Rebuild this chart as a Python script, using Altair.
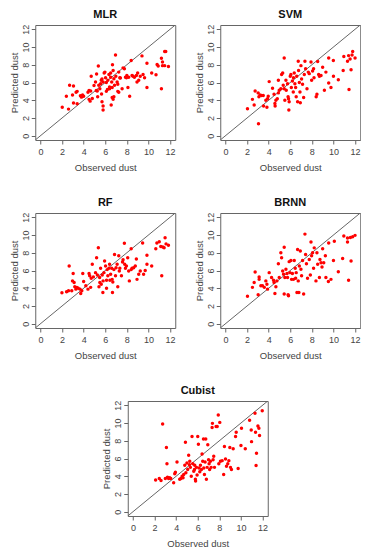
import altair as alt
import pandas as pd

ticks = [0, 2, 4, 6, 8, 10, 12]
axis_domain = [-0.48, 12.48]
diag = [-0.48, 12.48]

mlr_obs = [2.02, 2.6, 2.4, 2.7, 3.06, 2.97, 3.06, 3.4, 3.3, 3.4, 3.7, 3.8, 3.9, 4.0, 4.4, 4.5, 4.65, 4.5, 4.6, 4.8,
           4.7, 4.96, 5.1, 5.17, 5.26, 5.2, 5.36, 5.4, 5.5, 5.3, 5.57, 5.63, 5.7, 5.8, 5.9, 5.66, 5.7, 5.8, 5.8, 5.97,
           6.03, 6.1, 6.2, 6.1, 6.24, 6.34, 6.4, 6.4, 6.5, 6.5, 6.6, 6.64, 6.64, 6.55, 6.67, 6.73, 6.8, 6.86, 6.8, 6.73,
           6.95, 6.98, 7.1, 7.16, 7.25, 7.35, 7.16, 7.25, 7.4, 7.56, 7.65, 7.77, 7.87, 7.96, 8.0, 8.17, 8.1, 8.26, 8.4, 8.48,
           8.57, 8.7, 8.88, 9.0, 8.94, 9.1, 9.24, 9.4, 9.5, 9.64, 9.86, 9.86, 10.3, 10.7, 10.8, 10.9, 11.2, 11.3, 11.3, 11.2,
           11.5, 11.6, 11.5, 11.85]
mlr_pred = [3.2, 3.0, 4.46, 5.7, 5.6, 4.6, 3.7, 3.6, 4.9, 5.0, 4.5, 4.35, 4.6, 4.46, 4.9, 5.1, 5.05, 4.1, 3.9, 4.2,
            6.7, 5.65, 6.05, 5.1, 5.05, 6.95, 7.85, 5.7, 5.3, 4.4, 5.87, 6.25, 6.4, 6.05, 7.06, 4.7, 3.83, 3.35, 2.9, 7.17,
            6.54, 6.0, 5.2, 5.0, 6.25, 6.9, 5.5, 5.3, 7.06, 6.6, 6.05, 5.43, 4.3, 3.46, 8.0, 7.36, 6.43, 5.7, 4.4, 4.1,
            9.1, 6.7, 6.05, 5.8, 7.17, 6.54, 5.0, 4.9, 6.5, 5.3, 7.65, 7.55, 6.6, 6.54, 6.8, 6.6, 5.43, 4.46, 8.48, 6.8,
            6.7, 6.6, 6.8, 7.06, 6.05, 6.25, 6.7, 9.0, 6.9, 6.54, 8.18, 5.43, 7.06, 6.87, 8.03, 7.85, 8.74, 8.3, 7.9, 5.3,
            9.5, 9.5, 7.9, 7.8]

svm_obs = [2.04, 2.5, 2.66, 2.75, 3.06, 3.03, 3.1, 3.2, 3.34, 3.5, 3.53, 3.74, 3.84, 3.9, 3.96, 4.05, 4.36, 4.5, 4.58, 4.6,
           4.67, 4.8, 4.9, 4.9, 4.98, 5.13, 5.2, 5.3, 5.35, 5.44, 5.44, 5.5, 5.6, 5.63, 5.75, 5.8, 5.84, 5.9, 5.87, 6.0,
           6.06, 6.1, 6.2, 6.28, 6.3, 6.37, 6.43, 6.5, 6.55, 6.6, 6.68, 6.74, 6.77, 6.84, 6.9, 6.93, 6.99, 7.05, 7.14, 7.24,
           7.3, 7.36, 7.42, 7.55, 7.67, 7.76, 7.92, 7.98, 8.07, 8.16, 8.2, 8.4, 8.47, 8.54, 8.63, 8.7, 8.85, 9.0, 9.16, 9.3,
           9.56, 9.56, 9.77, 9.99, 10.0, 10.45, 10.9, 10.96, 11.3, 11.4, 11.44, 11.54, 11.63, 11.72, 11.78, 12.0]
svm_pred = [3.05, 4.1, 3.46, 5.05, 1.34, 4.83, 4.39, 4.6, 4.54, 4.54, 3.35, 4.0, 3.2, 4.16, 4.46, 6.1, 5.35, 4.68, 3.64, 3.35,
            4.0, 4.16, 4.83, 6.25, 5.13, 5.3, 6.9, 7.06, 5.7, 8.77, 5.3, 4.0, 6.25, 5.13, 5.87, 4.39, 4.16, 3.83, 2.9, 6.7,
            6.9, 5.43, 6.17, 4.94, 6.54, 7.06, 5.87, 5.43, 4.39, 6.7, 3.83, 8.4, 7.36, 5.99, 4.94, 3.72, 7.9, 6.4, 5.8, 4.3,
            6.9, 8.4, 7.55, 5.3, 7.17, 7.0, 8.3, 6.25, 7.3, 7.55, 6.54, 4.39, 4.68, 8.36, 6.9, 6.7, 6.8, 7.73, 5.13, 7.17,
            5.95, 8.77, 5.43, 8.48, 6.7, 6.32, 7.36, 8.92, 8.4, 9.03, 5.2, 8.66, 7.43, 9.1, 9.5, 8.77]

rf_obs = [1.99, 2.42, 2.6, 2.66, 2.9, 3.03, 2.97, 3.12, 3.18, 3.28, 3.37, 3.5, 3.67, 3.73, 3.83, 3.92, 4.0, 4.2, 4.4, 4.5,
          4.56, 4.65, 4.7, 4.8, 4.9, 5.1, 5.2, 5.27, 5.36, 5.42, 5.48, 5.5, 5.57, 5.63, 5.72, 5.78, 5.8, 5.88, 5.94, 6.03,
          6.12, 6.12, 6.18, 6.24, 6.34, 6.4, 6.43, 6.5, 6.6, 6.64, 6.67, 6.7, 6.8, 6.86, 6.95, 7.0, 7.1, 7.16, 7.25, 7.3,
          7.35, 7.5, 7.6, 7.65, 7.77, 7.8, 7.87, 7.96, 8.08, 8.17, 8.23, 8.4, 8.4, 8.48, 8.63, 8.78, 8.88, 8.94, 9.1, 9.24,
          9.46, 9.55, 9.7, 9.86, 9.86, 10.3, 10.68, 10.78, 11.0, 11.14, 11.23, 11.33, 11.45, 11.54, 11.63, 11.85]
rf_pred = [3.5, 3.6, 3.72, 6.5, 3.72, 5.65, 4.83, 4.65, 4.16, 3.9, 4.1, 4.0, 3.9, 3.42, 3.72, 5.65, 4.76, 4.28, 3.9, 5.65,
           5.4, 4.1, 5.13, 6.7, 5.28, 5.76, 7.43, 5.5, 8.57, 4.16, 5.2, 4.65, 6.25, 4.46, 5.5, 3.53, 4.83, 5.76, 7.06, 6.5,
           4.9, 4.0, 6.1, 5.4, 6.25, 6.7, 4.9, 5.57, 6.25, 5.0, 3.53, 4.7, 6.1, 7.8, 5.4, 6.32, 6.7, 4.16, 7.66, 5.95,
           6.25, 5.4, 6.96, 7.2, 9.06, 6.7, 6.25, 6.5, 7.43, 5.95, 4.83, 8.46, 6.1, 6.25, 6.3, 6.5, 7.3, 5.0, 5.57, 5.95,
           9.1, 5.57, 6.0, 7.73, 6.7, 6.5, 8.46, 9.1, 9.25, 8.7, 5.4, 8.66, 8.57, 9.7, 9.0, 8.85]

brnn_obs = [2.04, 2.5, 2.66, 2.75, 3.03, 3.12, 3.12, 3.28, 3.43, 3.6, 3.74, 3.84, 3.9, 4.05, 4.27, 4.45, 4.5, 4.58, 4.67, 4.76,
            4.9, 4.98, 5.13, 5.2, 5.3, 5.38, 5.44, 5.44, 5.5, 5.6, 5.7, 5.75, 5.8, 5.84, 5.9, 5.97, 6.06, 6.12, 6.2, 6.3,
            6.37, 6.46, 6.5, 6.55, 6.62, 6.68, 6.74, 6.8, 6.84, 6.93, 6.99, 7.05, 7.14, 7.24, 7.36, 7.42, 7.5, 7.6, 7.76, 7.86,
            7.92, 7.98, 8.07, 8.16, 8.22, 8.38, 8.47, 8.54, 8.7, 8.75, 8.85, 8.94, 9.0, 9.1, 9.25, 9.3, 9.53, 9.56, 9.77, 10.0,
            10.08, 10.45, 10.85, 10.96, 11.3, 11.3, 11.4, 11.57, 11.63, 11.78, 12.0]
brnn_pred = [3.1, 4.1, 4.65, 5.84, 3.27, 5.28, 5.0, 4.28, 4.28, 4.1, 4.83, 4.46, 3.9, 5.76, 5.2, 4.9, 4.65, 3.42, 4.16, 4.83,
             6.76, 5.2, 8.0, 7.43, 5.95, 5.57, 8.62, 3.35, 5.2, 6.13, 5.65, 5.2, 3.27, 3.16, 7.0, 5.76, 7.13, 5.0, 5.65, 5.0,
             7.13, 6.25, 5.13, 5.76, 3.53, 8.36, 4.83, 3.53, 6.5, 8.2, 6.13, 5.4, 7.13, 3.35, 10.1, 7.8, 6.76, 5.13, 7.25, 5.5,
             9.2, 7.66, 8.0, 6.25, 8.55, 4.83, 8.0, 6.7, 5.2, 7.25, 6.88, 6.4, 8.44, 6.88, 7.66, 5.2, 4.76, 9.1, 5.0, 7.13,
             9.3, 5.87, 7.36, 9.9, 9.2, 9.66, 4.9, 9.73, 7.06, 9.8, 9.96]

cub_obs = [2.1, 2.44, 2.6, 2.75, 3.0, 3.1, 3.15, 3.2, 3.3, 3.4, 3.5, 3.77, 3.87, 3.93, 4.08, 4.33, 4.45, 4.55, 4.64, 4.7,
           4.8, 4.86, 4.9, 5.0, 5.07, 5.16, 5.23, 5.26, 5.32, 5.4, 5.47, 5.54, 5.63, 5.7, 5.72, 5.78, 5.8, 5.88, 5.94, 6.0,
           6.06, 6.12, 6.19, 6.25, 6.34, 6.4, 6.46, 6.53, 6.56, 6.62, 6.68, 6.74, 6.8, 6.87, 6.93, 7.0, 7.05, 7.1, 7.17, 7.24,
           7.33, 7.36, 7.42, 7.48, 7.55, 7.7, 7.8, 7.9, 7.95, 8.04, 8.1, 8.26, 8.4, 8.47, 8.57, 8.66, 8.78, 8.88, 8.97, 9.03,
           9.12, 9.28, 9.5, 9.56, 9.74, 10.0, 10.05, 10.4, 10.8, 10.95, 10.98, 11.3, 11.35, 11.4, 11.44, 11.57, 11.66, 11.72, 11.97]
cub_pred = [3.57, 3.75, 3.53, 9.9, 3.75, 7.25, 5.4, 3.9, 3.75, 3.83, 3.75, 3.27, 4.28, 4.46, 5.6, 3.65, 3.75, 4.0, 3.83, 4.2,
            5.24, 7.84, 4.39, 5.5, 4.76, 6.36, 5.3, 5.68, 5.0, 4.0, 8.47, 5.4, 4.57, 4.76, 5.24, 3.65, 3.46, 5.0, 4.13, 8.47,
            7.6, 4.94, 4.5, 5.24, 4.76, 6.5, 5.68, 8.2, 4.94, 4.2, 5.6, 8.2, 3.65, 5.0, 7.55, 5.87, 5.4, 4.76, 5.68, 5.0,
            9.5, 9.96, 5.87, 6.25, 5.0, 9.6, 9.6, 10.9, 5.4, 10.07, 5.68, 5.76, 4.2, 7.36, 5.94, 5.13, 5.4, 5.76, 7.25, 5.0,
            4.76, 7.1, 8.47, 8.96, 4.87, 7.47, 9.4, 7.1, 10.3, 9.2, 7.9, 11.1, 8.96, 5.2, 6.6, 9.66, 9.4, 8.6, 11.37]

FONT = "Liberation Sans"
GREY = "#666666"


def panel(name, obs, pred):
    df = pd.DataFrame({"obs": obs, "pred": pred})
    line_df = pd.DataFrame({"obs": diag, "pred": diag})
    xs = alt.Scale(domain=axis_domain, nice=False, zero=False)
    ys = alt.Scale(domain=axis_domain, nice=False, zero=False)
    xax = alt.Axis(values=ticks, title="Observed dust", format="d", labelPadding=3, titlePadding=6)
    yax = alt.Axis(values=ticks, title="Predicted dust", format="d", labelAngle=270,
                   labelAlign="center", labelBaseline="bottom", labelPadding=1, titlePadding=2)
    line = alt.Chart(line_df).mark_line(color=GREY, strokeWidth=1, clip=True).encode(
        x=alt.X("obs:Q", scale=xs, axis=xax),
        y=alt.Y("pred:Q", scale=ys, axis=yax),
    )
    pts = alt.Chart(df).mark_circle(size=12, color="#ff0000", opacity=1).encode(
        x=alt.X("obs:Q", scale=xs, axis=xax),
        y=alt.Y("pred:Q", scale=ys, axis=yax),
    )
    return alt.layer(line, pts).properties(
        width=140, height=115,
        title=alt.TitleParams(name, fontSize=11, fontWeight="bold", font=FONT, color="#111111", offset=4),
    )


row1 = alt.hconcat(panel("MLR", mlr_obs, mlr_pred), panel("SVM", svm_obs, svm_pred), spacing=17)
row2 = alt.hconcat(panel("RF", rf_obs, rf_pred), panel("BRNN", brnn_obs, brnn_pred), spacing=17)
row3 = panel("Cubist", cub_obs, cub_pred)

chart = alt.vconcat(row1, row2, row3, spacing=24, center=True, padding=0).configure_view(
    stroke=GREY, strokeWidth=1
).configure_axis(
    grid=False, domain=False, tickSize=4, tickColor=GREY, tickWidth=1,
    labelFontSize=9, labelFont=FONT, labelColor="#444444",
    titleFontSize=9.5, titleFont=FONT, titleColor="#444444", titleFontWeight="normal",
)

chart.save("out.html", embed_options={"renderer": "svg", "actions": False})
